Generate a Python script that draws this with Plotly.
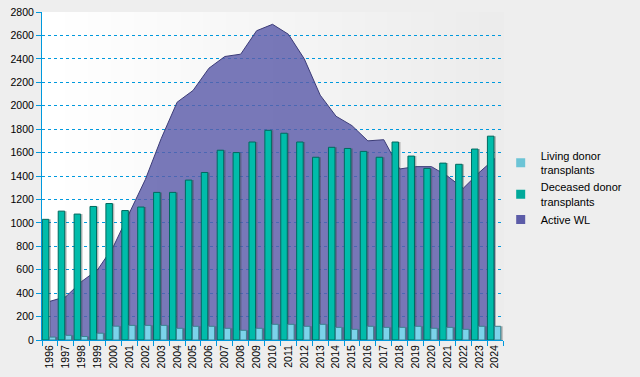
import plotly.graph_objects as go

years = ["1996", "1997", "1998", "1999", "2000", "2001", "2002", "2003", "2004", "2005",
         "2006", "2007", "2008", "2009", "2010", "2011", "2012", "2013", "2014", "2015",
         "2016", "2017", "2018", "2019", "2020", "2021", "2022", "2023", "2024"]
deceased = [1030, 1100, 1075, 1140, 1165, 1105, 1135, 1260, 1260, 1365,
            1430, 1620, 1600, 1690, 1790, 1765, 1690, 1560, 1645, 1635,
            1610, 1560, 1690, 1570, 1465, 1510, 1500, 1630, 1740]
living = [25, 40, 30, 58, 118, 125, 125, 125, 100, 117,
          117, 100, 83, 100, 134, 134, 117, 134, 108, 91,
          117, 108, 108, 117, 100, 108, 91, 117, 117]
active_wl = [330, 370, 500, 600, 800, 1090, 1370, 1720, 2030, 2130,
             2320, 2420, 2440, 2640, 2695, 2610, 2400, 2090, 1910, 1830,
             1700, 1710, 1460, 1480, 1480, 1400, 1295, 1430, 1550]
y_ticks = [0, 200, 400, 600, 800, 1000, 1200, 1400, 1600, 1800, 2000, 2200, 2400, 2600, 2800]

FONT = "Liberation Sans, Arial, sans-serif"
BLUE = "#0099dd"

fig = go.Figure()

# Active waiting list area (drawn on base axes, below bars)
fig.add_trace(go.Scatter(
    x=years, y=active_wl, mode="lines", fill="tozeroy",
    fillcolor="rgba(92,92,170,0.82)", line=dict(color="#3c3c78", width=1),
    showlegend=False, hoverinfo="skip", xaxis="x", yaxis="y"))

# bar shadows
for vals, off, w in [(deceased, -0.48, 0.41), (living, -0.04, 0.40)]:
    fig.add_trace(go.Bar(
        x=years, y=vals, offset=off + 0.12, width=w,
        marker=dict(color="rgba(60,60,60,0.35)", line=dict(width=0)),
        showlegend=False, hoverinfo="skip", xaxis="x2", yaxis="y2"))

fig.add_trace(go.Bar(
    x=years, y=deceased, offset=-0.48, width=0.41, name="Deceased donor<br>transplants",
    marker=dict(color="#00bcaa", line=dict(color="#00695f", width=1)),
    showlegend=False, xaxis="x2", yaxis="y2"))
fig.add_trace(go.Bar(
    x=years, y=living, offset=-0.04, width=0.40, name="Living donor<br>transplants",
    marker=dict(color="#7bd3ea", line=dict(color="#3a8390", width=1)),
    showlegend=False, xaxis="x2", yaxis="y2"))

# legend entries
for nm, col in [("Living donor<br>transplants", "#6cc4d6"),
                ("Deceased donor<br>transplants", "#00a99a"),
                ("Active WL", "#5c5ca8")]:
    fig.add_trace(go.Scatter(
        x=[None], y=[None], mode="markers", name=nm,
        marker=dict(symbol="square", size=9, color=col, line=dict(width=0)),
        xaxis="x", yaxis="y"))

# background gradient of plot area
N = 40
for i in range(N):
    t = i / (N - 1)
    c = int(round(255 - (255 - 236) * t))
    fig.add_shape(type="rect", xref="x domain", yref="y domain",
                  x0=i / N, x1=(i + 1) / N + 0.002, y0=0, y1=1,
                  fillcolor=f"rgb({c},{c},{c})", line=dict(width=0), layer="below")

fig.update_layout(
    width=640, height=377,
    margin=dict(l=42, r=137, t=12, b=37, pad=0),
    paper_bgcolor="#eeeeee", plot_bgcolor="#eeeeee",
    barmode="overlay",
    font=dict(family=FONT, size=11, color="#000000"),
    xaxis=dict(type="category", categoryorder="array", categoryarray=years,
               range=[-0.5, 28.5], tickangle=-90, tickson="boundaries",
               ticks="outside", ticklen=5, tickcolor=BLUE, tickwidth=1,
               showline=True, linecolor=BLUE, linewidth=1, showgrid=False,
               zeroline=False, automargin=False,
               tickfont=dict(family=FONT, size=10.5, color="#000")),
    yaxis=dict(range=[0, 2800], tickvals=y_ticks, ticks="outside", ticklen=5,
               tickcolor=BLUE, showline=True, linecolor=BLUE, linewidth=1,
               showgrid=True, gridcolor=BLUE, griddash="dot", gridwidth=1,
               zeroline=False, automargin=False,
               tickfont=dict(family=FONT, size=10.5, color="#000")),
    xaxis2=dict(type="category", categoryorder="array", categoryarray=years,
                range=[-0.5, 28.5], overlaying="x", visible=False),
    yaxis2=dict(range=[0, 2800], overlaying="y", visible=False),
    legend=dict(x=0.995, xanchor="left", y=0.604, yanchor="top",
                bgcolor="rgba(0,0,0,0)", font=dict(family=FONT, size=11, color="#000"),
                traceorder="normal", itemclick=False, itemdoubleclick=False),
    showlegend=True,
)

fig.write_html("out.html",
               config={"displayModeBar": False},
               post_script="document.body.style.margin='0';document.body.style.background='#eeeeee';")
